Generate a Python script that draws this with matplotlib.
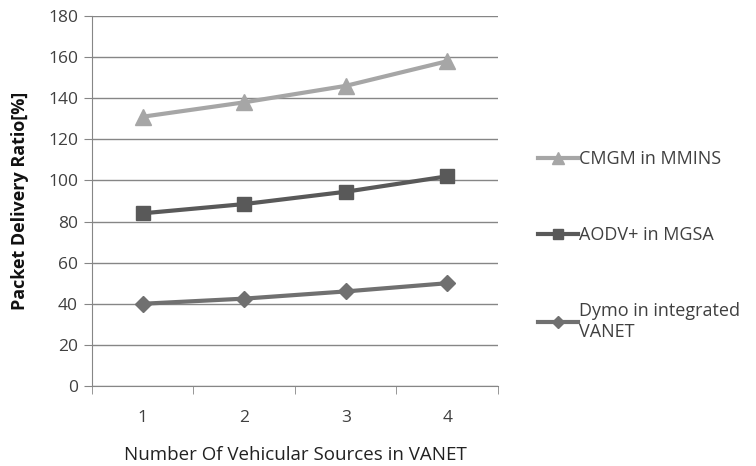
import matplotlib
matplotlib.use("Agg")
import matplotlib.pyplot as plt

plt.rcParams["font.family"] = ["Open Sans", "DejaVu Sans"]

# data
sources = ["1", "2", "3", "4"]
cmgm = [131, 138, 146, 158]
aodv = [84, 88.5, 94.5, 102]
dymo = [40, 42.5, 46, 50]
labels = ["CMGM in MMINS", "AODV+ in MGSA", "Dymo in integrated\nVANET"]
yticks = list(range(0, 181, 20))

fig = plt.figure(figsize=(7.56, 4.66), dpi=100)
ax = fig.add_axes([0.1217, 0.1717, 0.5370, 0.7940])

x = list(range(1, len(sources) + 1))
l1, = ax.plot(x, cmgm, color="#a6a6a6", lw=3, marker="^", ms=11, zorder=3)
l2, = ax.plot(x, aodv, color="#595959", lw=3, marker="s", ms=10, zorder=3)
l3, = ax.plot(x, dymo, color="#707070", lw=3, marker="D", ms=8, zorder=3)

ax.set_xlim(0.5, 4.5)
ax.set_ylim(0, 180)
ax.set_yticks(yticks)
ax.set_xticks(x)
ax.set_xticklabels(sources)
ax.set_xticks([0.5, 1.5, 2.5, 3.5, 4.5], minor=True)
ax.tick_params(axis="x", which="major", length=0, pad=17, labelsize=12.5, colors="#404040")
ax.tick_params(axis="x", which="minor", length=6, color="#868686")
ax.tick_params(axis="y", length=6, color="#868686", labelsize=12.5, labelcolor="#404040", pad=4)
ax.yaxis.grid(True, color="#868686", lw=1)
ax.set_axisbelow(True)
for s in ["top", "right"]:
    ax.spines[s].set_visible(False)
for s in ["left", "bottom"]:
    ax.spines[s].set_color("#868686")

ax.set_ylabel("Packet Delivery Ratio[%]", fontsize=13, fontweight="bold", color="#111111", labelpad=14)
ax.set_xlabel("Number Of Vehicular Sources in VANET", fontsize=13.5, color="#222222", labelpad=15)

fig.legend([l1, l2, l3], labels, loc="upper left", bbox_to_anchor=(0.69, 0.712),
           frameon=False, fontsize=13, labelspacing=3.2, handlelength=2.2,
           handletextpad=0.1, labelcolor="#404040", markerscale=0.75)

fig.savefig("out.png", dpi=100)
